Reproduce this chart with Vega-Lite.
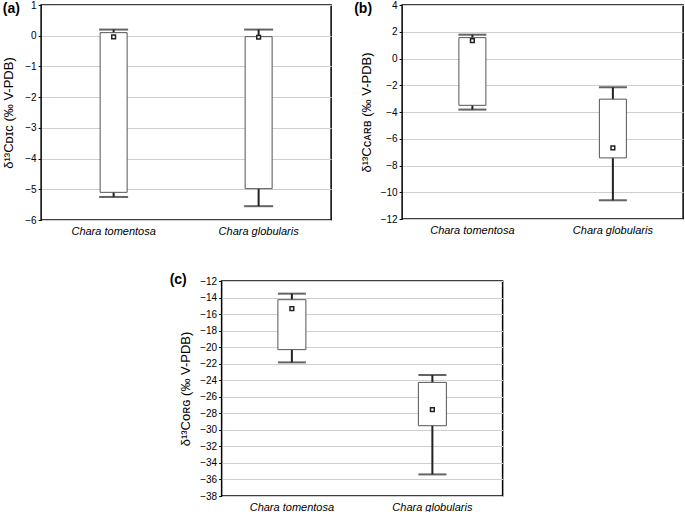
{
  "$schema": "https://vega.github.io/schema/vega-lite/v6.json",
  "background": "white",
  "padding": {"left": 1, "top": -1, "right": 0, "bottom": 0},
  "config": {
    "font": "Liberation Sans",
    "view": {"stroke": "#000", "strokeWidth": 1.5},
    "title": {"fontSize": 14, "fontWeight": "bold", "font": "Liberation Sans", "anchor": "start", "frame": "bounds", "offset": 0, "dy": 20, "color": "#000"},
    "axisY": {"grid": true, "gridColor": "#cfcfcf", "gridWidth": 1, "domain": false, "ticks": true, "tickSize": 3, "tickColor": "#000", "labelFontSize": 10, "labelColor": "#000", "labelPadding": 2, "labelOverlap": false, "titleFontSize": 13, "titleFontWeight": "normal", "titleColor": "#000"},
    "axisX": {"grid": false, "domain": false, "ticks": false, "labelAngle": 0, "labelFontSize": 11, "labelFontStyle": "italic", "labelColor": "#000", "labelPadding": 5, "title": null}
  },
  "datasets": {
    "a": [
      {"species": "Chara tomentosa", "lo": -5.25, "q1": -5.1, "med": -0.04, "q3": 0.1, "hi": 0.2},
      {"species": "Chara globularis", "lo": -5.55, "q1": -4.98, "med": -0.05, "q3": -0.03, "hi": 0.2}
    ],
    "b": [
      {"species": "Chara tomentosa", "lo": -3.82, "q1": -3.5, "med": 1.33, "q3": 1.56, "hi": 1.78},
      {"species": "Chara globularis", "lo": -10.6, "q1": -7.43, "med": -6.69, "q3": -3.04, "hi": -2.15}
    ],
    "c": [
      {"species": "Chara tomentosa", "lo": -21.84, "q1": -20.3, "med": -15.35, "q3": -14.26, "hi": -13.53},
      {"species": "Chara globularis", "lo": -35.39, "q1": -29.5, "med": -27.56, "q3": -24.26, "hi": -23.37}
    ]
  },
  "spacing": 35,
  "center": true,
  "vconcat": [
    {
      "spacing": 21,
      "hconcat": [
        {
          "width": 290, "height": 215,
          "title": "(a)",
          "data": {"name": "a"},
          "encoding": {"x": {"field": "species", "type": "nominal", "sort": null, "scale": {"paddingInner": 0, "paddingOuter": 0}}},
          "layer": [
            {"mark": {"type": "rule", "color": "#222", "strokeWidth": 2},
             "encoding": {"y": {"field": "lo", "type": "quantitative", "scale": {"domain": [-6, 1], "nice": false}, "axis": {"values": [-6, -5, -4, -3, -2, -1, 0, 1], "title": "δ¹³Cᴅɪᴄ (‰ V-PDB)", "titlePadding": 9}}, "y2": {"field": "hi"}}},
            {"mark": {"type": "bar", "size": 27, "fill": "white", "stroke": "#555", "strokeWidth": 1},
             "encoding": {"y": {"field": "q1", "type": "quantitative", "axis": {"values": [-6, -5, -4, -3, -2, -1, 0, 1], "title": "δ¹³Cᴅɪᴄ (‰ V-PDB)", "titlePadding": 9}}, "y2": {"field": "q3"}}},
            {"mark": {"type": "tick", "size": 29, "thickness": 2, "color": "#222"},
             "encoding": {"y": {"field": "lo", "type": "quantitative", "axis": {"values": [-6, -5, -4, -3, -2, -1, 0, 1], "title": "δ¹³Cᴅɪᴄ (‰ V-PDB)", "titlePadding": 9}}}},
            {"mark": {"type": "tick", "size": 29, "thickness": 2, "color": "#222"},
             "encoding": {"y": {"field": "hi", "type": "quantitative", "axis": {"values": [-6, -5, -4, -3, -2, -1, 0, 1], "title": "δ¹³Cᴅɪᴄ (‰ V-PDB)", "titlePadding": 9}}}},
            {"mark": {"type": "point", "shape": "square", "size": 14, "filled": false, "fill": "white", "stroke": "#222", "strokeWidth": 1.5, "opacity": 1},
             "encoding": {"y": {"field": "med", "type": "quantitative", "axis": {"values": [-6, -5, -4, -3, -2, -1, 0, 1], "title": "δ¹³Cᴅɪᴄ (‰ V-PDB)", "titlePadding": 9}}}}
          ]
        },
        {
          "width": 281, "height": 214,
          "title": {"text": "(b)", "dx": -6},
          "data": {"name": "b"},
          "encoding": {"x": {"field": "species", "type": "nominal", "sort": null, "scale": {"paddingInner": 0, "paddingOuter": 0}}},
          "layer": [
            {"mark": {"type": "rule", "color": "#222", "strokeWidth": 2},
             "encoding": {"y": {"field": "lo", "type": "quantitative", "scale": {"domain": [-12, 4], "nice": false}, "axis": {"values": [-12, -10, -8, -6, -4, -2, 0, 2, 4], "title": "δ¹³Cᴄᴀʀʙ (‰ V-PDB)", "titlePadding": 7}}, "y2": {"field": "hi"}}},
            {"mark": {"type": "bar", "size": 27, "fill": "white", "stroke": "#555", "strokeWidth": 1},
             "encoding": {"y": {"field": "q1", "type": "quantitative", "axis": {"values": [-12, -10, -8, -6, -4, -2, 0, 2, 4], "title": "δ¹³Cᴄᴀʀʙ (‰ V-PDB)", "titlePadding": 7}}, "y2": {"field": "q3"}}},
            {"mark": {"type": "tick", "size": 28, "thickness": 2, "color": "#222"},
             "encoding": {"y": {"field": "lo", "type": "quantitative", "axis": {"values": [-12, -10, -8, -6, -4, -2, 0, 2, 4], "title": "δ¹³Cᴄᴀʀʙ (‰ V-PDB)", "titlePadding": 7}}}},
            {"mark": {"type": "tick", "size": 28, "thickness": 2, "color": "#222"},
             "encoding": {"y": {"field": "hi", "type": "quantitative", "axis": {"values": [-12, -10, -8, -6, -4, -2, 0, 2, 4], "title": "δ¹³Cᴄᴀʀʙ (‰ V-PDB)", "titlePadding": 7}}}},
            {"mark": {"type": "point", "shape": "square", "size": 14, "filled": false, "fill": "white", "stroke": "#222", "strokeWidth": 1.5, "opacity": 1},
             "encoding": {"y": {"field": "med", "type": "quantitative", "axis": {"values": [-12, -10, -8, -6, -4, -2, 0, 2, 4], "title": "δ¹³Cᴄᴀʀʙ (‰ V-PDB)", "titlePadding": 7}}}}
          ]
        }
      ]
    },
    {
      "width": 281, "height": 215,
      "title": {"text": "(c)", "dx": -10, "dy": 15},
      "data": {"name": "c"},
      "encoding": {"x": {"field": "species", "type": "nominal", "sort": null, "scale": {"paddingInner": 0, "paddingOuter": 0}}},
      "layer": [
        {"mark": {"type": "rule", "color": "#222", "strokeWidth": 2},
         "encoding": {"y": {"field": "lo", "type": "quantitative", "scale": {"domain": [-38, -12], "nice": false}, "axis": {"values": [-38, -36, -34, -32, -30, -28, -26, -24, -22, -20, -18, -16, -14, -12], "title": "δ¹³Cᴏʀɢ (‰ V-PDB)", "titlePadding": 7}}, "y2": {"field": "hi"}}},
        {"mark": {"type": "bar", "size": 28, "fill": "white", "stroke": "#555", "strokeWidth": 1},
         "encoding": {"y": {"field": "q1", "type": "quantitative", "axis": {"values": [-38, -36, -34, -32, -30, -28, -26, -24, -22, -20, -18, -16, -14, -12], "title": "δ¹³Cᴏʀɢ (‰ V-PDB)", "titlePadding": 7}}, "y2": {"field": "q3"}}},
        {"mark": {"type": "tick", "size": 28, "thickness": 2, "color": "#222"},
         "encoding": {"y": {"field": "lo", "type": "quantitative", "axis": {"values": [-38, -36, -34, -32, -30, -28, -26, -24, -22, -20, -18, -16, -14, -12], "title": "δ¹³Cᴏʀɢ (‰ V-PDB)", "titlePadding": 7}}}},
        {"mark": {"type": "tick", "size": 28, "thickness": 2, "color": "#222"},
         "encoding": {"y": {"field": "hi", "type": "quantitative", "axis": {"values": [-38, -36, -34, -32, -30, -28, -26, -24, -22, -20, -18, -16, -14, -12], "title": "δ¹³Cᴏʀɢ (‰ V-PDB)", "titlePadding": 7}}}},
        {"mark": {"type": "point", "shape": "square", "size": 14, "filled": false, "fill": "white", "stroke": "#222", "strokeWidth": 1.5, "opacity": 1},
         "encoding": {"y": {"field": "med", "type": "quantitative", "axis": {"values": [-38, -36, -34, -32, -30, -28, -26, -24, -22, -20, -18, -16, -14, -12], "title": "δ¹³Cᴏʀɢ (‰ V-PDB)", "titlePadding": 7}}}}
      ]
    }
  ]
}
